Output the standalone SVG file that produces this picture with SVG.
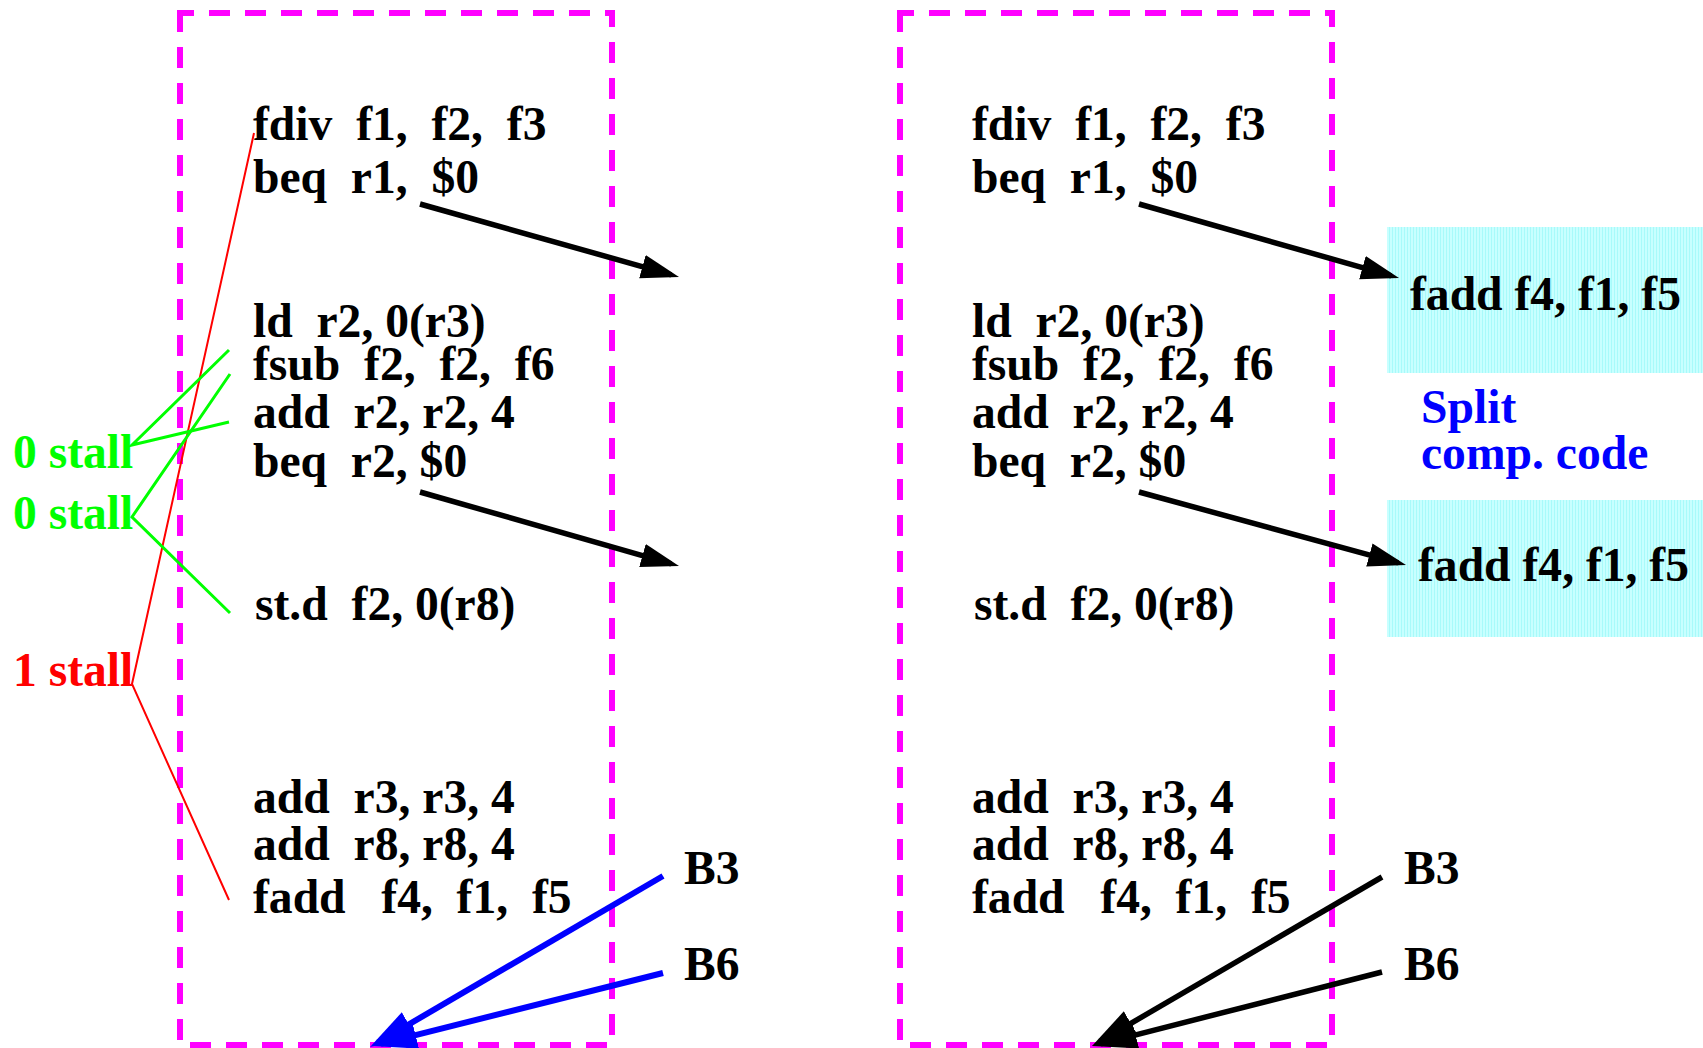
<svg xmlns="http://www.w3.org/2000/svg" width="1703" height="1048" viewBox="0 0 1703 1048" xml:space="preserve">
<style>
text{font-family:"Liberation Serif","Times New Roman",serif;font-weight:bold;font-size:47.6px;white-space:pre;fill:#000}
.g{fill:#00ff00}.r{fill:#ff0000}.b{fill:#0000ff}
.frame{fill:none;stroke:#ff00ff;stroke-width:6;stroke-dasharray:21 15;stroke-dashoffset:7}
.blk{stroke:#000;stroke-width:5.5;fill:none}
.blu{stroke:#0000ff;stroke-width:6;fill:none}
.gl{stroke:#00ff00;stroke-width:3;fill:none}
.rl{stroke:#ff0000;stroke-width:2;fill:none}
</style>
<defs>
<pattern id="cy" width="3" height="10" patternUnits="userSpaceOnUse"><rect width="3" height="10" fill="#c8ffff"/><rect width="1" height="10" fill="#a8fafa"/></pattern>
<marker id="ah" markerUnits="userSpaceOnUse" markerWidth="40" markerHeight="26" refX="30" refY="12" orient="auto"><path d="M0,0 L38,12 L0,24 z" fill="#000"/></marker>
<marker id="ahb" markerUnits="userSpaceOnUse" markerWidth="48" markerHeight="30" refX="36" refY="14" orient="auto"><path d="M0,0 L45,14 L0,28 z" fill="#000"/></marker>
<marker id="ahbb" markerUnits="userSpaceOnUse" markerWidth="48" markerHeight="30" refX="36" refY="14" orient="auto"><path d="M0,0 L45,14 L0,28 z" fill="#0000ff"/></marker>
</defs>
<rect width="1703" height="1048" fill="#fff"/>
<g id="left-block">
<rect class="frame" x="180" y="13" width="432" height="1032"/>
<text x="253" y="140">fdiv  f1,  f2,  f3</text>
<text x="253" y="193">beq  r1,  $0</text>
<text x="253" y="337">ld  r2, 0(r3)</text>
<text x="253" y="380">fsub  f2,  f2,  f6</text>
<text x="253" y="428">add  r2, r2, 4</text>
<text x="253" y="477">beq  r2, $0</text>
<text x="255" y="620">st.d  f2, 0(r8)</text>
<text x="253" y="813">add  r3, r3, 4</text>
<text x="253" y="860">add  r8, r8, 4</text>
<text x="253" y="913">fadd   f4,  f1,  f5</text>
</g>
<g id="right-block">
<rect class="frame" x="900" y="13" width="432" height="1032"/>
<text x="972" y="140">fdiv  f1,  f2,  f3</text>
<text x="972" y="193">beq  r1,  $0</text>
<text x="972" y="337">ld  r2, 0(r3)</text>
<text x="972" y="380">fsub  f2,  f2,  f6</text>
<text x="972" y="428">add  r2, r2, 4</text>
<text x="972" y="477">beq  r2, $0</text>
<text x="974" y="620">st.d  f2, 0(r8)</text>
<text x="972" y="813">add  r3, r3, 4</text>
<text x="972" y="860">add  r8, r8, 4</text>
<text x="972" y="913">fadd   f4,  f1,  f5</text>
</g>
<g id="comp-box-1">
<rect x="1387" y="227" width="316" height="146" fill="url(#cy)"/>
<text x="1410" y="310">fadd f4, f1, f5</text>
</g>
<g id="comp-box-2">
<rect x="1387" y="500" width="316" height="137" fill="url(#cy)"/>
<text x="1418" y="581">fadd f4, f1, f5</text>
</g>
<g id="split-label">
<text class="b" x="1421" y="423">Split</text>
<text class="b" x="1421" y="469">comp. code</text>
</g>
<g id="stall-labels">
<text class="g" x="13" y="468">0 stall</text>
<text class="g" x="13" y="529">0 stall</text>
<text class="r" x="13" y="686">1 stall</text>
</g>
<g id="block-labels">
<text x="684" y="884">B3</text>
<text x="684" y="980">B6</text>
<text x="1404" y="884">B3</text>
<text x="1404" y="980">B6</text>
</g>
<g id="connectors">
<polyline class="rl" points="254,133 132,684 229,900"/>
<polyline class="gl" points="229,350 132,445 229,422"/>
<polyline class="gl" points="230,374 132,517 230,613"/>
<line class="blk" x1="420" y1="204" x2="671.3" y2="274.8" marker-end="url(#ah)"/>
<line class="blk" x1="420" y1="492" x2="671.3" y2="563.8" marker-end="url(#ah)"/>
<line class="blk" x1="1139" y1="204" x2="1391.3" y2="275.8" marker-end="url(#ah)"/>
<line class="blk" x1="1139" y1="492" x2="1398.3" y2="562.9" marker-end="url(#ah)"/>
<line class="blu" x1="663" y1="876" x2="377.8" y2="1042.5" marker-end="url(#ahbb)"/>
<line class="blu" x1="663" y1="973" x2="380.7" y2="1043.8" marker-end="url(#ahbb)"/>
<line class="blk" x1="1382" y1="877" x2="1099.8" y2="1041.5" marker-end="url(#ahb)"/>
<line class="blk" x1="1382" y1="972" x2="1100.7" y2="1043.8" marker-end="url(#ahb)"/>
</g>
</svg>
